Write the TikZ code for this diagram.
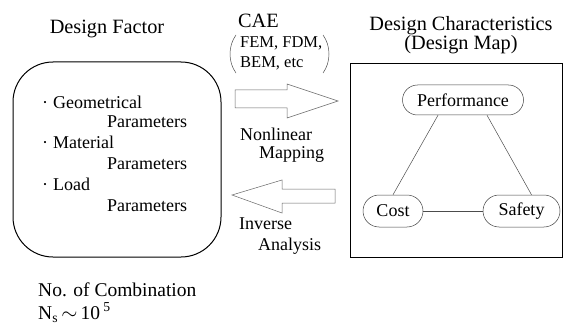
\documentclass[tikz,border=0pt]{standalone}
\usepackage{fontspec}
\setmainfont{Liberation Serif}
\begin{document}
\begin{tikzpicture}[x=1pt,y=-1pt,
  head/.style={font=\fontsize{20.3}{16}\selectfont, inner sep=0pt},
  body/.style={font=\fontsize{18}{20}\selectfont, inner sep=0pt},
  small/.style={font=\fontsize{16.5}{18}\selectfont, inner sep=0pt},
  frame/.style={draw=black, line width=1pt},
  oval/.style={draw=black!75, line width=0.5pt, font=\fontsize{18}{20}\selectfont, inner sep=0pt},
  link/.style={draw=black!70, line width=0.5pt},
  hollow/.style={draw=black!60, line width=0.5pt}]
\useasboundingbox (0,0) rectangle (563,329);

% left box
\node[frame, rounded corners=40pt, minimum width=208pt, minimum height=195pt, inner sep=0pt] (factor) at (117,159.5) {};
\node[head, anchor=base] (dftitle) at (107,34) {Design Factor};
\node[body, anchor=base] (b1) at (45,109) {·};
\node[body, anchor=base west] (geo) at (53,109) {Geometrical};
\node[body, anchor=base west] (p1) at (107,128) {Parameters};
\node[body, anchor=base] (b2) at (45,148) {·};
\node[body, anchor=base west] (mat) at (53,148) {Material};
\node[body, anchor=base west] (p2) at (107,169) {Parameters};
\node[body, anchor=base] (b3) at (45,190) {·};
\node[body, anchor=base west] (load) at (53,190) {Load};
\node[body, anchor=base west] (p3) at (107,211) {Parameters};

\node[head, font=\fontsize{19.5}{23}\selectfont, anchor=base west, align=left] (comb) at (38,319)
  {No. of Combination\\N\textsubscript{s}\,$\sim$\,10\,\textsuperscript{5}};

% CAE
\node[head, anchor=base west] (cae) at (238,28) {CAE};
\node[small, anchor=base west] (fem) at (240,48) {FEM, FDM,};
\node[small, anchor=base west] (bem) at (240,68) {BEM, etc};
\draw[link] (236,35) .. controls (228,46) and (228,62) .. (236,73);
\draw[link] (323,35) .. controls (331,46) and (331,62) .. (323,73);

% arrows
\draw[hollow] (235,90) -- (287,90) -- (287,84) -- (338,101) -- (287,118) -- (287,108) -- (235,108) -- cycle;
\draw[hollow] (232,195) -- (282,180) -- (282,189) -- (335,189) -- (335,203) -- (282,203) -- (282,213) -- cycle;

\node[body, anchor=base west] (nonlin) at (240,140) {Nonlinear};
\node[body, anchor=base west] (mapping) at (259,158) {Mapping};
\node[body, anchor=base west] (inverse) at (239,229) {Inverse};
\node[body, anchor=base west] (analysis) at (258,250) {Analysis};

% right box
\node[head, anchor=base, align=center] (dctitle) at (461,50) {Design Characteristics\\(Design Map)};
\node[frame, minimum width=212pt, minimum height=193pt, inner sep=0pt] (map) at (456,160.5) {};

\node[oval, rounded corners=15pt, minimum width=121pt, minimum height=30pt] (perf) at (463,100) {Performance};
\node[oval, rounded corners=16pt, minimum width=60pt, minimum height=32pt] (cost) at (393,211) {Cost};
\node[oval, rounded corners=16pt, minimum width=77pt, minimum height=32pt] (safety) at (521.5,211) {Safety};

\draw[link] ([xshift=-25pt]perf.south) -- (cost.north);
\draw[link] ([xshift=24pt]perf.south) -- ([xshift=10pt]safety.north);
\draw[link] (cost.east) -- (safety.west);
\end{tikzpicture}
\end{document}
